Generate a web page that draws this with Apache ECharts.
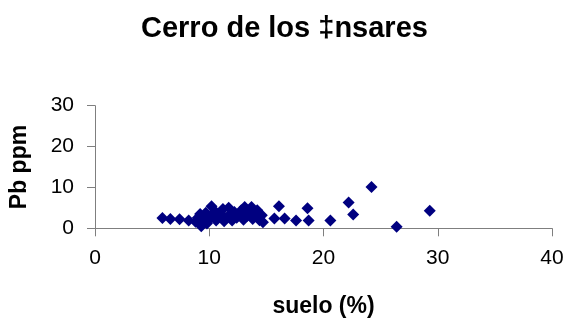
<!DOCTYPE html>
<html>
<head>
<meta charset="utf-8">
<script src="https://cdn.jsdelivr.net/npm/echarts@6/dist/echarts.min.js"></script>
<style>
  html, body { margin: 0; padding: 0; background: #fff; }
  #chart { width: 573px; height: 327px; }
</style>
</head>
<body>
<div id="chart"></div>
<script>
// Soil fraction (%) against lead content (ppm), one pair per sample
const sueloPct = [
  5.9, 6.6, 7.4, 8.2,
  8.8, 9.0, 9.2, 9.3, 9.4, 9.5, 9.7, 9.8, 10.0, 10.2, 10.3, 10.5, 10.6, 10.8,
  11.0, 11.2, 11.3, 11.5, 11.7, 11.8, 12.0, 12.2, 12.4, 12.6, 12.8, 13.0,
  13.1, 13.3, 13.5, 13.7, 13.8, 14.0, 14.2, 14.4, 14.6, 14.7,
  15.7, 16.1, 16.6, 17.6, 18.6, 18.7, 20.6, 22.2, 22.6, 24.2, 26.4, 29.3
];
const pbPpm = [
  2.5, 2.3, 2.2, 1.9,
  1.6, 2.6, 3.5, 0.5, 1.8, 2.9, 3.8, 1.2, 2.2, 5.4, 3.1, 4.2, 1.9, 2.8,
  3.6, 4.7, 1.7, 2.5, 5.0, 3.3, 1.9, 4.0, 2.6, 3.5, 4.4, 2.1,
  5.2, 3.0, 4.0, 5.2, 2.3, 3.4, 4.4, 2.0, 3.2, 1.5,
  2.4, 5.4, 2.4, 1.9, 4.9, 1.9, 1.9, 6.3, 3.4, 10.1, 0.4, 4.3
];
const xTicks = [0, 10, 20, 30, 40];
const yTicks = [0, 10, 20, 30];

const points = sueloPct.map((x, i) => [x, pbPpm[i]]);

const chart = echarts.init(document.getElementById('chart'), null, { renderer: 'canvas' });
const font = '"Liberation Sans", Arial, sans-serif';
const axisGray = '#7f7f7f';

chart.setOption({
  animation: false,
  backgroundColor: '#ffffff',
  title: {
    text: 'Cerro de los \u2021nsares',
    left: 141,
    top: 14,
    padding: 0,
    textStyle: { fontFamily: font, fontWeight: 'bold', fontSize: 29, color: '#000' }
  },
  grid: { left: 95, right: 21, top: 105.7, bottom: 98.7 },
  xAxis: {
    type: 'value',
    min: xTicks[0],
    max: xTicks[xTicks.length - 1],
    interval: xTicks[1] - xTicks[0],
    name: 'suelo (%)',
    nameLocation: 'middle',
    nameGap: 67,
    nameTextStyle: { fontFamily: font, fontWeight: 'bold', fontSize: 23, color: '#000' },
    axisLine: { show: true, onZero: false, lineStyle: { color: axisGray, width: 1 } },
    axisTick: { show: true, inside: false, length: 8, lineStyle: { color: axisGray } },
    axisLabel: { margin: 19, fontFamily: font, fontSize: 21, color: '#000' },
    splitLine: { show: false }
  },
  yAxis: {
    type: 'value',
    min: yTicks[0],
    max: yTicks[yTicks.length - 1],
    interval: yTicks[1] - yTicks[0],
    name: 'Pb ppm',
    nameLocation: 'middle',
    nameGap: 64,
    nameTextStyle: { fontFamily: font, fontWeight: 'bold', fontSize: 23, color: '#000' },
    axisLine: { show: true, onZero: false, lineStyle: { color: axisGray, width: 1 } },
    axisTick: { show: true, inside: false, length: 8, lineStyle: { color: axisGray } },
    axisLabel: { margin: 21, fontFamily: font, fontSize: 21, color: '#000' },
    splitLine: { show: false }
  },
  series: [{
    type: 'scatter',
    data: points,
    symbol: 'diamond',
    symbolSize: 12,
    itemStyle: { color: '#000080', opacity: 1 }
  }]
});
</script>
</body>
</html>
